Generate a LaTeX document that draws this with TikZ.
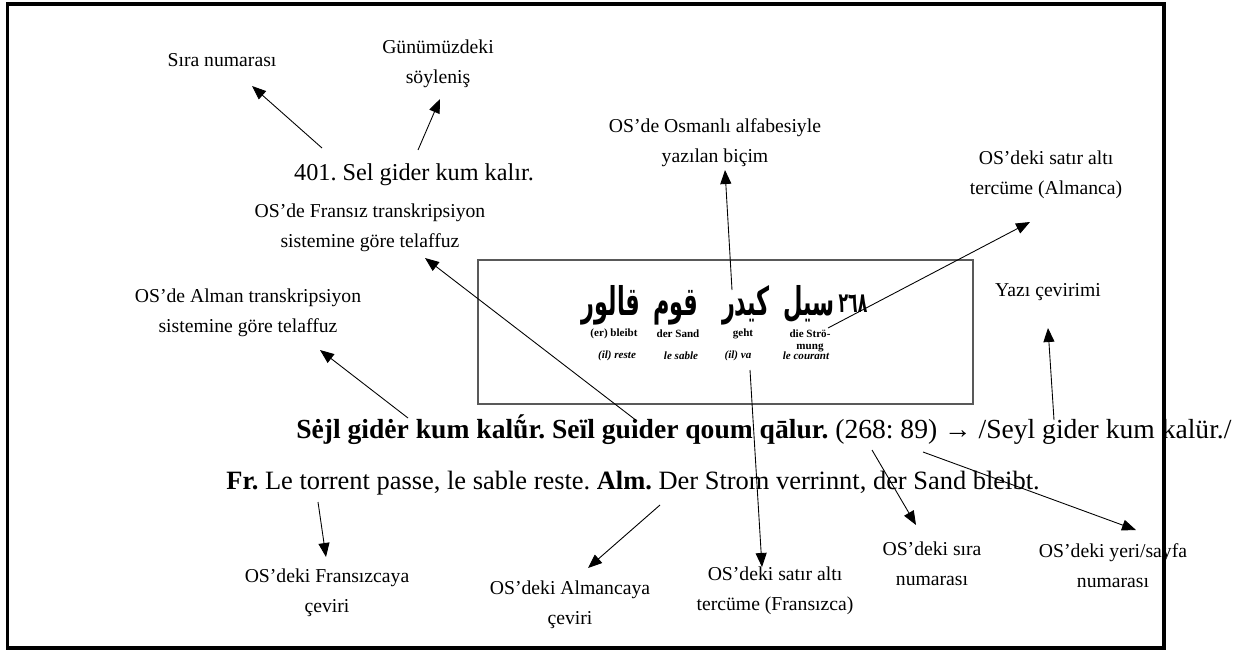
\documentclass[tikz,border=0pt]{standalone}
\usepackage{fontspec}
\setmainfont{Liberation Serif}
\newfontfamily\arabicfont[Script=Arabic]{DejaVu Sans}
\TeXXeTstate=1
\usetikzlibrary{arrows.meta, positioning, calc}

\tikzset{
	etiket/.style={font=\fontsize{11.2}{17}\selectfont, align=center, inner sep=0pt},
	ok/.style={-{Triangle[length=2.8mm, width=2.2mm]}, line width=0.5pt},
	metin/.style={font=\fontsize{15.3}{17}\selectfont, inner sep=0pt},
	osm/.style={font=\arabicfont\bfseries\fontsize{15}{18}\selectfont, inner sep=0pt},
	alt/.style={font=\bfseries\fontsize{6.3}{7}\selectfont, inner sep=0pt, align=center},
}
\newcommand{\osmyaz}[1]{\scalebox{0.85}[1.5]{\beginR#1\endR}}

\begin{document}
\frenchspacing
\begin{tikzpicture}[x=0.02cm, y=-0.02cm]
	\useasboundingbox (0,0) rectangle (1233,649);
	% atasözü ve açıklamalar
	\node[etiket] (sira) at (222,60) {Sıra numarası};
	\node[etiket] (gunum) at (438,64) {Günümüzdeki\\söyleniş};
	\node[metin, anchor=base, font=\fontsize{13.8}{17}\selectfont] (atasoz) at (414,180) {401. Sel gider kum kalır.};
	\node[etiket] (osmanli) at (715,143) {OS’de Osmanlı alfabesiyle\\yazılan biçim};
	\node[etiket] (fransiz) at (370,228) {OS’de Fransız transkripsiyon\\sistemine göre telaffuz};
	\node[etiket] (almtr) at (1046,175) {OS’deki satır altı\\tercüme (Almanca)};
	\node[etiket] (alman) at (248,313) {OS’de Alman transkripsiyon\\sistemine göre telaffuz};
	\node[etiket] (yazi) at (1048,292) {Yazı çevirimi};
	% OS'deki satır (kutu)
	\draw[black!65, line width=0.6pt] (478,260) rectangle (973,404);
	\foreach \k/\x/\w in {w1/611/قالور, w2/676/قوم, w3/746/كيدر, w4/809/سيل}
		\node[osm, anchor=base] (\k) at (\x,315) {\osmyaz{\w}};
	\node[osm, anchor=base, font=\arabicfont\bfseries\fontsize{10.5}{13}\selectfont] (w5) at (853,312) {\osmyaz{٢٦٨}};
	\foreach \k/\x/\w in {d1/614/(er) bleibt, d2/678/der Sand, d3/743/geht}
		\node[alt] (\k) at (\x,334) {\w};
	\node[alt, anchor=north] (d4) at (810,329) {die Strö-\\mung};
	\foreach \k/\x/\w in {f1/617/(il) reste, f2/681/le sable, f3/738/(il) va, f4/806/le courant}
		\node[alt, font=\bfseries\itshape\fontsize{6.3}{7}\selectfont] (\k) at (\x,356) {\w};
	% okunuşlar ve çeviriler
	\node[metin, anchor=base west, font=\fontsize{15.7}{17}\selectfont] (okunus) at (296,438)
		{\textbf{Sėjl gidėr kum kalṹr. Seïl guider qoum qālur.} (268: 89) → /Seyl gider kum kalür./};
	\node[metin, anchor=base west, font=\fontsize{15.05}{17}\selectfont] (ceviri) at (226,489)
		{\textbf{Fr.} Le torrent passe, le sable reste. \textbf{Alm.} Der Strom verrinnt, der Sand bleibt.};
	\node[etiket] (frcev) at (327,593) {OS’deki Fransızcaya\\çeviri};
	\node[etiket] (almcev) at (570,605) {OS’deki Almancaya\\çeviri};
	\node[etiket] (frsatir) at (775,591) {OS’deki satır altı\\tercüme (Fransızca)};
	\node[etiket] (sira2) at (932,564) {OS’deki sıra\\numarası};
	\node[etiket] (sayfa) at (1113,566) {OS’deki yeri/sayfa\\numarası};
	% oklar
	\coordinate (c401) at (322,148);
	\coordinate (csel) at (418,150);
	\coordinate (cosm) at (732,290);
	\coordinate (cfr) at (637,421);
	\coordinate (cstr) at (828,328);
	\coordinate (cal) at (408,418);
	\coordinate (ckal) at (1054,420);
	\coordinate (cfrc) at (318,502);
	\coordinate (calc) at (660,505);
	\coordinate (cva) at (750,370);
	\coordinate (c268) at (872,450);
	\coordinate (c89) at (923,452);
	\foreach \n/\dx/\dy in {sira/30/26, gunum/2/35, osmanli/10/27, fransiz/55/30,
			almtr/-16/47, alman/72/37, yazi/0/36, frcev/-1/-36, almcev/18/-37,
			frsatir/-13/-24, sira2/-16/-39, sayfa/23/-36}
		\coordinate (\n-u) at ($(\n)+(\dx,\dy)$);
	\foreach \s/\t in {c401/sira, csel/gunum, cosm/osmanli, cfr/fransiz, cstr/almtr,
			cal/alman, ckal/yazi, cfrc/frcev, calc/almcev, cva/frsatir, c268/sira2, c89/sayfa}
		\draw[ok] (\s) -- (\t-u);
	% çerçeve
	\draw[line width=0.08cm] (7.5,4) rectangle (1164,647.5);
\end{tikzpicture}
\end{document}
